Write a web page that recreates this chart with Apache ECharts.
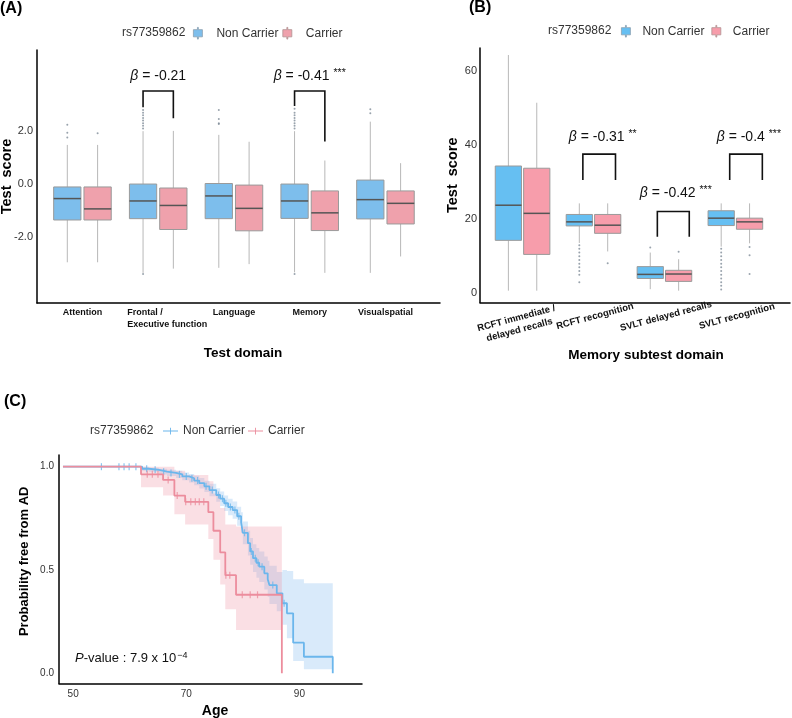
<!DOCTYPE html>
<html><head><meta charset="utf-8">
<script src="https://cdn.jsdelivr.net/npm/echarts@6/dist/echarts.min.js"></script>
<style>html,body{margin:0;padding:0;background:#fff}#c{width:792px;height:718px}</style>
</head><body><div id="c"></div><script>
// ---------- Panel A: test domains ----------
const domainCategories = ['Attention', 'Frontal /\nExecutive function', 'Language', 'Memory', 'Visualspatial'];
// [lower whisker, Q1, median, Q3, upper whisker]
const domainNonCarrier = [
  [-2.96, -1.36, -0.55, -0.11, 1.48],
  [-3.36, -1.31, -0.64, 0.00, 2.00],
  [-3.17, -1.31, -0.45, 0.02, 1.86],
  [-3.34, -1.30, -0.64, 0.00, 2.00],
  [-3.36, -1.32, -0.59, 0.15, 2.36]
];
const domainCarrier = [
  [-2.96, -1.36, -0.94, -0.11, 1.48],
  [-3.20, -1.72, -0.81, -0.15, 2.01],
  [-3.03, -1.77, -0.92, -0.04, 1.60],
  [-3.36, -1.76, -1.09, -0.26, 0.89],
  [-2.74, -1.51, -0.73, -0.26, 0.79]
];
const domainNonCarrierOutliers = [
  [1.76, 1.94, 2.24],
  [2.1, 2.2, 2.3, 2.4, 2.5, 2.6, 2.7, 2.8, -3.4],
  [2.27, 2.3, 2.46, 2.8],
  [2.1, 2.2, 2.3, 2.4, 2.5, 2.6, 2.7, 2.85, -3.4],
  [2.68, 2.83]
];
const domainCarrierOutliers = [[1.92], [], [], [], []];
const domainYTicks = [-2, 0, 2];
const domainBetaText = ['', '-0.21', '', '-0.41', ''];
const domainBetaStars = ['', '', '', '***', ''];
// [left leg end, top, right leg end]
const domainBracket = [null, [2.9, 3.52, 2.49], null, [2.95, 3.52, 1.61], null];

// ---------- Panel B: memory subtests ----------
const memCategories = ['RCFT immediate /\ndelayed recalls', 'RCFT recognition', 'SVLT delayed recalls', 'SVLT recognition'];
const memNonCarrier = [
  [0.7, 14.3, 23.8, 34.4, 64.4],
  [13.6, 18.2, 19.3, 21.3, 24.3],
  [1.1, 4.0, 5.1, 7.2, 11.0],
  [12.6, 18.3, 20.3, 22.3, 24.3]
];
const memCarrier = [
  [0.7, 10.5, 21.6, 33.8, 51.5],
  [11.3, 16.2, 18.4, 21.3, 24.3],
  [0.7, 3.2, 5.2, 6.2, 9.2],
  [13.5, 17.3, 19.3, 20.3, 24.3]
];
const memNonCarrierOutliers = [
  [],
  [13, 12, 11, 10, 9, 8, 7, 6, 5, 3],
  [12.4],
  [12, 11, 10, 9, 8, 7, 6, 5, 4, 3, 2, 1]
];
const memCarrierOutliers = [[], [8.1], [11.2], [12.5, 10.3, 5.2]];
const memYTicks = [0, 20, 40, 60];
const memBetaText = ['', '-0.31', '-0.42', '-0.4'];
const memBetaStars = ['', '**', '***', '***'];
const memBracket = [null, [30.6, 37.6, 30.6], [15.3, 22.1, 15.3], [30.6, 37.6, 30.6]];

// ---------- Panel C: Kaplan-Meier ----------
const kmNonCarrierAge = [48.2, 62.2, 63.4, 65.2, 66.6, 68.2, 69.3, 70.5, 71.4, 72.3, 73.2, 74.1, 75.3, 76.0, 76.7, 77.4, 78.2, 79.0, 79.7, 80.0, 80.9, 81.3, 81.8, 82.4, 82.9, 83.8, 84.4, 84.7, 86.0, 87.0, 87.8, 88.9, 90.8, 95.9];
const kmNonCarrierSurv = [1.0, 0.99, 0.985, 0.976, 0.97, 0.963, 0.953, 0.944, 0.933, 0.92, 0.905, 0.887, 0.863, 0.845, 0.823, 0.805, 0.79, 0.76, 0.73, 0.68, 0.63, 0.59, 0.557, 0.535, 0.516, 0.484, 0.455, 0.427, 0.387, 0.339, 0.29, 0.148, 0.08, 0.0];
const kmNonCarrierUpper = [1.0, 1.0, 0.995, 0.99, 0.985, 0.98, 0.972, 0.965, 0.956, 0.945, 0.932, 0.917, 0.896, 0.88, 0.86, 0.845, 0.832, 0.806, 0.78, 0.735, 0.69, 0.655, 0.625, 0.607, 0.59, 0.565, 0.545, 0.52, 0.49, 0.5, 0.495, 0.455, 0.436];
const kmNonCarrierLower = [1.0, 0.98, 0.975, 0.962, 0.955, 0.945, 0.934, 0.923, 0.91, 0.895, 0.878, 0.857, 0.83, 0.81, 0.786, 0.765, 0.748, 0.714, 0.68, 0.625, 0.57, 0.525, 0.49, 0.463, 0.442, 0.405, 0.37, 0.335, 0.30, 0.235, 0.17, 0.06, 0.02];
const kmNonCarrierCensor = [55.0, 58.1, 59.0, 59.9, 61.1, 63.0, 64.5, 66.0, 67.3, 68.8, 70.0, 71.0, 72.0, 73.5, 74.6, 75.7, 76.4, 77.0, 77.8, 78.6, 79.3, 80.3, 81.5, 82.2, 82.7, 83.4, 85.3, 87.3];
const kmCarrierAge = [48.2, 62.0, 65.9, 67.9, 69.8, 73.9, 74.8, 76.0, 76.9, 78.8, 86.9];
const kmCarrierSurv = [1.0, 0.963, 0.936, 0.86, 0.83, 0.78, 0.69, 0.585, 0.475, 0.38, 0.0];
const kmCarrierUpper = [1.0, 1.0, 1.0, 0.98, 0.96, 0.93, 0.87, 0.80, 0.72, 0.71];
const kmCarrierLower = [1.0, 0.90, 0.86, 0.77, 0.72, 0.65, 0.55, 0.43, 0.31, 0.21];
const kmCarrierCensor = [63.1, 64.0, 65.0, 66.8, 68.4, 69.9, 70.8, 71.6, 72.3, 73.1, 77.0, 77.7, 79.9, 81.3, 82.6];
const kmXTicks = [50, 70, 90];
const kmYTicks = [0, 0.5, 1.0];

// ---------- styles / layout ----------
const FONT = '"Liberation Sans", Arial, Helvetica, sans-serif';
const TXT = '#333';
const A_NC = '#7DBEEC', A_C = '#EFA1AC';
const B_NC = '#66BFF2', B_C = '#F79DAB';
const KM_NC = '#6BB6EC', KM_C = '#EC8D9D';
const KM_NC_BAND = 'rgba(110,175,235,0.26)', KM_C_BAND = 'rgba(240,150,165,0.30)';
const WHISKER = '#b8b8b8', BOXLINE = '#9a9a9a', MEDIAN = '#555';
const A_OFF = 0.2, A_W = 0.36, B_OFF = 0.2, B_W = 0.37;
const domainBetaY = 4.09;
const memBetaPos = [null, [0.13, 42.3], [0.16, 27.1], [0.19, 42.3]];
const memBracketX = [null, [-0.15, 0.31], [-0.10, 0.35], [-0.08, 0.38]];
const domainBracketX = [-0.2, 0.2];

function tickLabel(list, digits) {
  return v => list.some(t => Math.abs(t - v) < 1e-6) ? (digits ? v.toFixed(digits) : String(Math.round(v))) : '';
}
function catLabel(cats, richKey) {
  return v => {
    const r = Math.round(v);
    if (Math.abs(v - r) > 1e-6 || r < 1 || r > cats.length) return '';
    const s = cats[r - 1];
    if (richKey && s.indexOf('\n') >= 0) return s.split('\n').map(l => '{' + richKey + '|' + l + '}').join('\n');
    return s;
  };
}
function boxRenderer(fill, wUnits) {
  return function (params, api) {
    const x = api.value(0);
    const lo = api.coord([x, api.value(1)]);
    const q1 = api.coord([x, api.value(2)]);
    const md = api.coord([x, api.value(3)]);
    const q3 = api.coord([x, api.value(4)]);
    const hi = api.coord([x, api.value(5)]);
    const w = api.size([wUnits, 0])[0];
    const left = q1[0] - w / 2;
    return { type: 'group', children: [
      { type: 'line', shape: { x1: lo[0], y1: lo[1], x2: q1[0], y2: q1[1] }, style: { stroke: WHISKER, lineWidth: 1 } },
      { type: 'line', shape: { x1: q3[0], y1: q3[1], x2: hi[0], y2: hi[1] }, style: { stroke: WHISKER, lineWidth: 1 } },
      { type: 'rect', shape: { x: left, y: q3[1], width: w, height: q1[1] - q3[1] }, style: { fill: fill, stroke: BOXLINE, lineWidth: 1 } },
      { type: 'line', shape: { x1: left, y1: md[1], x2: left + w, y2: md[1] }, style: { stroke: MEDIAN, lineWidth: 1.5 } }
    ] };
  };
}
function bracketRenderer(params, api) {
  const xl = api.value(0), xr = api.value(1);
  const p1 = api.coord([xl, api.value(2)]);
  const p2 = api.coord([xl, api.value(3)]);
  const p3 = api.coord([xr, api.value(3)]);
  const p4 = api.coord([xr, api.value(4)]);
  return { type: 'polyline', shape: { points: [p1, p2, p3, p4] }, style: { stroke: '#111', lineWidth: 1.6, fill: null } };
}
function betaRenderer(texts) {
  return function (params, api) {
    const p = api.coord([api.value(0), api.value(1)]);
    return { type: 'text', x: p[0], y: p[1], style: {
      text: texts[params.dataIndex], align: 'center', verticalAlign: 'middle',
      fontFamily: FONT, fontSize: 14, fill: '#111',
      rich: { g: { fontStyle: 'italic', fontSize: 14, fontFamily: FONT, fill: '#111' },
              s: { fontSize: 10.5, fontFamily: FONT, fill: '#111', verticalAlign: 'top', padding: [0, 0, 6, 0] } }
    } };
  };
}
function bandRenderer(ages, lower, upper, fill) {
  return function (params, api) {
    if (params.dataIndex !== 0) return;
    const pts = [];
    for (let i = 0; i < ages.length - 1; i++) { pts.push(api.coord([ages[i], upper[i]])); pts.push(api.coord([ages[i + 1], upper[i]])); }
    for (let i = ages.length - 2; i >= 0; i--) { pts.push(api.coord([ages[i + 1], lower[i]])); pts.push(api.coord([ages[i], lower[i]])); }
    return { type: 'polygon', shape: { points: pts }, style: { fill: fill } };
  };
}
function survAt(ages, surv, a) {
  let s = surv[0];
  for (let i = 0; i < ages.length; i++) if (ages[i] <= a) s = surv[i];
  return s;
}
function outlierData(lists, off) {
  const out = [];
  lists.forEach((l, i) => l.forEach(v => out.push([i + 1 + off, v])));
  return out;
}
function betaData(texts, stars, posFn) {
  const d = [], t = [];
  texts.forEach((s, i) => { if (s) { d.push(posFn(i)); t.push('{g|β} = ' + s + (stars[i] ? ' {s|' + stars[i] + '}' : '')); } });
  return { d, t };
}

const axisLineStyle = { show: true, onZero: false, lineStyle: { color: '#000', width: 1.5 } };
const boldName = size => ({ fontFamily: FONT, fontWeight: 'bold', fontSize: size, color: '#000' });

const aBeta = betaData(domainBetaText, domainBetaStars, i => [i + 1, domainBetaY]);
const bBeta = betaData(memBetaText, memBetaStars, i => [i + 1 + memBetaPos[i][0], memBetaPos[i][1]]);

const aBrackets = [], bBrackets = [];
domainBracket.forEach((b, i) => { if (b) aBrackets.push([i + 1 + domainBracketX[0], i + 1 + domainBracketX[1], b[0], b[1], b[2]]); });
memBracket.forEach((b, i) => { if (b) bBrackets.push([i + 1 + memBracketX[i][0], i + 1 + memBracketX[i][1], b[0], b[1], b[2]]); });

const boxIcon = 'path://M4.5,0 L5.5,0 L5.5,2.5 L10,2.5 L10,10.5 L5.5,10.5 L5.5,13 L4.5,13 L4.5,10.5 L0,10.5 L0,2.5 L4.5,2.5 Z';
const kmIcon = 'path://M0,5.4 L20,5.4 L20,6.6 L0,6.6 Z M9.4,1.5 L10.6,1.5 L10.6,10.5 L9.4,10.5 Z';

const option = {
  animation: false,
  backgroundColor: '#fff',
  textStyle: { fontFamily: FONT },
  title: [
    { text: '(A)', left: 0, top: 1, padding: 0, textStyle: { fontFamily: FONT, fontWeight: 'bold', fontSize: 16, color: '#000' } },
    { text: '(B)', left: 469, top: 0, padding: 0, textStyle: { fontFamily: FONT, fontWeight: 'bold', fontSize: 16, color: '#000' } },
    { text: '(C)', left: 4, top: 394, padding: 0, textStyle: { fontFamily: FONT, fontWeight: 'bold', fontSize: 16, color: '#000' } },
    { text: 'rs77359862', left: 122, top: 27, padding: 0, textStyle: { fontFamily: FONT, fontWeight: 'normal', fontSize: 12, color: TXT } },
    { text: 'rs77359862', left: 548, top: 25, padding: 0, textStyle: { fontFamily: FONT, fontWeight: 'normal', fontSize: 12, color: TXT } },
    { text: 'rs77359862', left: 90, top: 425, padding: 0, textStyle: { fontFamily: FONT, fontWeight: 'normal', fontSize: 12, color: TXT } },
    { text: '{i|P}-value : 7.9 x 10{s|−4}', left: 75, top: 651, padding: 0,
      textStyle: { fontFamily: FONT, fontWeight: 'normal', fontSize: 13, color: '#111',
        rich: { i: { fontFamily: FONT, fontStyle: 'italic', fontSize: 13, color: '#111' },
                s: { fontFamily: FONT, fontSize: 9, color: '#111', verticalAlign: 'top', padding: [0, 0, 6, 1] } } } }
  ],
  legend: [
    { left: 193, top: 27, itemWidth: 9, itemHeight: 12, itemGap: 4, padding: 0,
      textStyle: { fontFamily: FONT, fontSize: 12, color: TXT, padding: [0, 0, 0, 9] },
      data: [ { name: 'Non Carrier', icon: boxIcon, itemStyle: { color: A_NC, borderColor: '#8a9fb0', borderWidth: 0.8 } },
              { name: 'Carrier', icon: boxIcon, itemStyle: { color: A_C, borderColor: '#b09090', borderWidth: 0.8 } } ] },
    { left: 621, top: 25, itemWidth: 9, itemHeight: 12, itemGap: 7, padding: 0,
      textStyle: { fontFamily: FONT, fontSize: 12, color: TXT, padding: [0, 0, 0, 7] },
      data: [ { name: 'Non Carrier', icon: boxIcon, itemStyle: { color: B_NC, borderColor: '#8a9fb0', borderWidth: 0.8 } },
              { name: 'Carrier', icon: boxIcon, itemStyle: { color: B_C, borderColor: '#b09090', borderWidth: 0.8 } } ] },
    { left: 163, top: 425, itemWidth: 15, itemHeight: 10, itemGap: 3, padding: 0,
      textStyle: { fontFamily: FONT, fontSize: 12, color: TXT },
      data: [ { name: 'Non Carrier', icon: kmIcon, itemStyle: { color: KM_NC } },
              { name: 'Carrier', icon: kmIcon, itemStyle: { color: KM_C } } ] }
  ],
  grid: [
    { left: 37, top: 50, width: 403, height: 253, containLabel: false, outerBoundsMode: 'none' },
    { left: 480, top: 48, width: 310, height: 254.5, containLabel: false, outerBoundsMode: 'none' },
    { left: 59, top: 455, width: 303, height: 228.6, containLabel: false, outerBoundsMode: 'none' }
  ],
  xAxis: [
    { type: 'value', gridIndex: 0, min: 0.4, max: 5.72, interval: 0.2, nameMoveOverlap: false,
      axisLine: axisLineStyle, axisTick: { show: false }, splitLine: { show: false },
      axisLabel: { margin: 4, formatter: catLabel(domainCategories, 'l'), fontFamily: FONT, fontWeight: 'bold', fontSize: 9, color: '#111', lineHeight: 12,
        rich: { l: { align: 'left', padding: [0, 0, 0, 18], fontFamily: FONT, fontWeight: 'bold', fontSize: 9, color: '#111', lineHeight: 12 } } },
      name: 'Test domain', nameLocation: 'middle', nameGap: 43, nameTextStyle: Object.assign(boldName(13.5), { padding: [0, 0, 0, 9] }) },
    { type: 'value', gridIndex: 1, min: 0.4, max: 4.77, interval: 0.2, nameMoveOverlap: false,
      axisLine: axisLineStyle, axisTick: { show: false }, splitLine: { show: false },
      axisLabel: { margin: 8, rotate: 15, align: 'center', verticalAlign: 'top', formatter: catLabel(memCategories, 'r'), fontFamily: FONT, fontWeight: 'bold', fontSize: 9.5, color: '#111', lineHeight: 12,
        rich: { r: { align: 'center', padding: [0, 16, 0, 0], fontFamily: FONT, fontWeight: 'bold', fontSize: 9.5, color: '#111', lineHeight: 12 } } },
      name: 'Memory subtest domain', nameLocation: 'middle', nameGap: 46, nameTextStyle: Object.assign(boldName(13.5), { padding: [0, 0, 0, 22] }) },
    { type: 'value', gridIndex: 2, min: 47.5, max: 101.07, interval: 2.5, nameMoveOverlap: false,
      axisLine: axisLineStyle, axisTick: { show: false }, splitLine: { show: false },
      axisLabel: { margin: 6, formatter: tickLabel(kmXTicks, 0), fontFamily: FONT, fontSize: 10, color: TXT },
      name: 'Age', nameLocation: 'middle', nameGap: 21, nameTextStyle: Object.assign(boldName(14), { padding: [0, 0, 0, 9] }) }
  ],
  yAxis: [
    { type: 'value', gridIndex: 0, min: -4.5, max: 5.07, interval: 0.5, nameMoveOverlap: false,
      axisLine: axisLineStyle, axisTick: { show: false }, splitLine: { show: false },
      axisLabel: { margin: 4, formatter: tickLabel(domainYTicks, 1), fontFamily: FONT, fontSize: 11, color: TXT },
      name: 'Test  score', nameLocation: 'middle', nameGap: 23, nameTextStyle: boldName(14.5) },
    { type: 'value', gridIndex: 1, min: -2.5, max: 66.3, interval: 2.5, nameMoveOverlap: false,
      axisLine: axisLineStyle, axisTick: { show: false }, splitLine: { show: false },
      axisLabel: { margin: 3, formatter: tickLabel(memYTicks, 0), fontFamily: FONT, fontSize: 11, color: TXT },
      name: 'Test  score', nameLocation: 'middle', nameGap: 20, nameTextStyle: boldName(14.5) },
    { type: 'value', gridIndex: 2, min: -0.05, max: 1.0566, interval: 0.05, nameMoveOverlap: false,
      axisLine: axisLineStyle, axisTick: { show: false }, splitLine: { show: false },
      axisLabel: { margin: 5, formatter: tickLabel(kmYTicks, 1), fontFamily: FONT, fontSize: 10, color: TXT },
      name: 'Probability free from AD', nameLocation: 'middle', nameGap: 28, nameTextStyle: Object.assign(boldName(13), { padding: [0, 0, 0, 16] }) }
  ],
  series: [
    // Panel A
    { type: 'custom', name: 'Non Carrier', xAxisIndex: 0, yAxisIndex: 0, encode: { x: 0, y: [1, 2, 3, 4, 5] },
      renderItem: boxRenderer(A_NC, A_W), itemStyle: { color: A_NC }, data: domainNonCarrier.map((s, i) => [i + 1 - A_OFF].concat(s)) },
    { type: 'custom', name: 'Carrier', xAxisIndex: 0, yAxisIndex: 0, encode: { x: 0, y: [1, 2, 3, 4, 5] },
      renderItem: boxRenderer(A_C, A_W), itemStyle: { color: A_C }, data: domainCarrier.map((s, i) => [i + 1 + A_OFF].concat(s)) },
    { type: 'scatter', name: 'Non Carrier', xAxisIndex: 0, yAxisIndex: 0, symbolSize: 2, itemStyle: { color: '#7f8c99' }, data: outlierData(domainNonCarrierOutliers, -A_OFF) },
    { type: 'scatter', name: 'Carrier', xAxisIndex: 0, yAxisIndex: 0, symbolSize: 2, itemStyle: { color: '#7f8c99' }, data: outlierData(domainCarrierOutliers, A_OFF) },
    { type: 'custom', xAxisIndex: 0, yAxisIndex: 0, encode: { x: [0, 1], y: [2, 3, 4] }, renderItem: bracketRenderer, data: aBrackets },
    { type: 'custom', xAxisIndex: 0, yAxisIndex: 0, encode: { x: 0, y: 1 }, renderItem: betaRenderer(aBeta.t), data: aBeta.d },
    // Panel B
    { type: 'custom', name: 'Non Carrier', xAxisIndex: 1, yAxisIndex: 1, encode: { x: 0, y: [1, 2, 3, 4, 5] },
      renderItem: boxRenderer(B_NC, B_W), itemStyle: { color: B_NC }, data: memNonCarrier.map((s, i) => [i + 1 - B_OFF].concat(s)) },
    { type: 'custom', name: 'Carrier', xAxisIndex: 1, yAxisIndex: 1, encode: { x: 0, y: [1, 2, 3, 4, 5] },
      renderItem: boxRenderer(B_C, B_W), itemStyle: { color: B_C }, data: memCarrier.map((s, i) => [i + 1 + B_OFF].concat(s)) },
    { type: 'scatter', name: 'Non Carrier', xAxisIndex: 1, yAxisIndex: 1, symbolSize: 2, itemStyle: { color: '#7f8c99' }, data: outlierData(memNonCarrierOutliers, -B_OFF) },
    { type: 'scatter', name: 'Carrier', xAxisIndex: 1, yAxisIndex: 1, symbolSize: 2, itemStyle: { color: '#7f8c99' }, data: outlierData(memCarrierOutliers, B_OFF) },
    { type: 'custom', xAxisIndex: 1, yAxisIndex: 1, encode: { x: [0, 1], y: [2, 3, 4] }, renderItem: bracketRenderer, data: bBrackets },
    { type: 'custom', xAxisIndex: 1, yAxisIndex: 1, encode: { x: 0, y: 1 }, renderItem: betaRenderer(bBeta.t), data: bBeta.d },
    // Panel C
    { type: 'custom', name: 'Non Carrier', xAxisIndex: 2, yAxisIndex: 2, encode: { x: 0, y: 1 },
      renderItem: bandRenderer(kmNonCarrierAge, kmNonCarrierLower, kmNonCarrierUpper, KM_NC_BAND),
      data: kmNonCarrierAge.map((a, i) => [a, kmNonCarrierSurv[i]]) },
    { type: 'custom', name: 'Carrier', xAxisIndex: 2, yAxisIndex: 2, encode: { x: 0, y: 1 },
      renderItem: bandRenderer(kmCarrierAge, kmCarrierLower, kmCarrierUpper, KM_C_BAND),
      data: kmCarrierAge.map((a, i) => [a, kmCarrierSurv[i]]) },
    { type: 'line', name: 'Non Carrier', xAxisIndex: 2, yAxisIndex: 2, step: 'end', symbol: 'none',
      lineStyle: { color: KM_NC, width: 1.8 }, itemStyle: { color: KM_NC },
      data: kmNonCarrierAge.map((a, i) => [a, kmNonCarrierSurv[i]]) },
    { type: 'scatter', name: 'Non Carrier', xAxisIndex: 2, yAxisIndex: 2, symbol: 'rect', symbolSize: [1.2, 7],
      itemStyle: { color: KM_NC }, data: kmNonCarrierCensor.map(a => [a, survAt(kmNonCarrierAge, kmNonCarrierSurv, a)]) },
    { type: 'line', name: 'Carrier', xAxisIndex: 2, yAxisIndex: 2, step: 'end', symbol: 'none',
      lineStyle: { color: KM_C, width: 1.8 }, itemStyle: { color: KM_C },
      data: kmCarrierAge.map((a, i) => [a, kmCarrierSurv[i]]) },
    { type: 'scatter', name: 'Carrier', xAxisIndex: 2, yAxisIndex: 2, symbol: 'rect', symbolSize: [1.2, 7],
      itemStyle: { color: KM_C }, data: kmCarrierCensor.map(a => [a, survAt(kmCarrierAge, kmCarrierSurv, a)]) }
  ]
};
const chart = echarts.init(document.getElementById('c'), null, { renderer: 'canvas' });
chart.setOption(option);
</script></body></html>
